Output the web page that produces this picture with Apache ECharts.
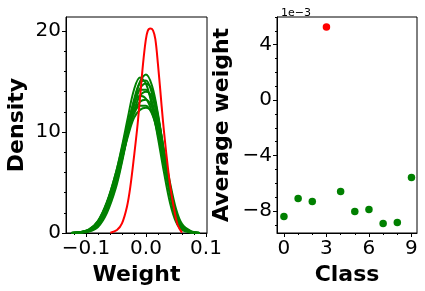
<!DOCTYPE html>
<html><head><meta charset="utf-8">
<script src="https://cdn.jsdelivr.net/npm/echarts@6/dist/echarts.min.js"></script>
<style>html,body{margin:0;padding:0;background:#fff}#c{width:425px;height:291px}</style>
</head><body><div id="c"></div>
<script>
// ---- data ----
const weightGrid = [-0.125,-0.11,-0.095,-0.08,-0.065,-0.05,-0.04,-0.03,-0.02,-0.01,0,0.01,0.02,0.03,0.04,0.05,0.06,0.075,0.09];
const green1 = [0,0.03,0.15,0.6,2.0,4.5,7.0,9.9,12.8,15.0,15.7,14.6,11.8,8.0,4.2,1.6,0.5,0.08,0];
const green2 = [0,0.08,0.3,1.1,3.0,6.0,8.6,11.5,14.2,15.4,14.8,12.6,9.4,6.0,3.0,1.1,0.3,0.05,0];
const green3 = [0,0.05,0.2,0.8,2.5,5.2,7.7,10.5,13.2,14.9,15.1,13.8,11.0,7.4,3.9,1.5,0.45,0.07,0];
const green4 = [0,0.04,0.18,0.7,2.2,4.8,7.2,10.0,12.6,14.3,14.8,14.1,11.6,8.0,4.4,1.8,0.55,0.08,0];
const green5 = [0,0.06,0.25,0.9,2.6,5.4,7.9,10.6,13.0,14.2,14.2,13.0,10.4,7.1,3.9,1.6,0.5,0.08,0];
const green6 = [0,0.05,0.2,0.8,2.3,4.9,7.3,9.9,12.1,13.6,14.0,13.5,11.4,8.2,4.7,2.0,0.65,0.1,0];
const green7 = [0,0.1,0.35,1.2,3.1,6.0,8.4,10.9,12.8,13.6,13.3,12.0,9.7,6.8,3.9,1.7,0.55,0.09,0];
const green8 = [0,0.07,0.28,1.0,2.8,5.5,7.8,10.1,12.0,13.0,13.2,12.5,10.6,7.8,4.6,2.0,0.7,0.12,0];
const green9 = [0,0.09,0.33,1.15,3.0,5.7,7.9,10.1,11.8,12.6,12.6,11.8,10.0,7.4,4.5,2.1,0.75,0.13,0];
const green10 = [0,0.06,0.25,0.9,2.6,5.2,7.4,9.6,11.4,12.2,12.4,12.0,10.5,8.0,5.0,2.4,0.9,0.18,0];
const greenCurves = [green1,green2,green3,green4,green5,green6,green7,green8,green9,green10];

const redWeights = [-0.0594,-0.0483,-0.040,-0.0317,-0.0261,-0.0194,-0.0139,-0.0094,-0.005,-0.0006,0.0028,0.0072,0.0117,0.0156,0.020,0.0239,0.0283,0.0339,0.0406,0.0472,0.0528,0.060];
const redDensities = [0.03,0.30,0.95,2.6,4.56,7.85,10.8,13.76,16.7,19.0,20.0,20.26,20.07,19.2,16.7,14.1,11.1,7.85,4.56,2.27,0.79,0.03];

const classes = [0,1,2,3,4,5,6,7,8,9];
const avgWeight = [-0.00840,-0.00710,-0.00732,0.00528,-0.00660,-0.00804,-0.00790,-0.00891,-0.00884,-0.00559];
const highlightClass = 3;

const leftXTicks = [-0.1,0,0.1];
const leftXMinor = [-0.12,-0.1,-0.08,-0.06,-0.04,-0.02,0,0.02,0.04,0.06,0.08,0.1];
const leftYTicks = [0,10,20];
const leftYMinor = [0,2,4,6,8,10,12,14,16,18,20];
const rightXTicks = [0,3,6,9];
const rightXMinor = [0,1,2,3,4,5,6,7,8,9];
const rightYTicks = [-0.008,-0.004,0,0.004];
const rightYMinor = [-0.009,-0.008,-0.007,-0.006,-0.005,-0.004,-0.003,-0.002,-0.001,0,0.001,0.002,0.003,0.004,0.005,0.006];

// ---- chart ----
const FONT = 'DejaVu Sans';
const minus = s => s.replace('-', '\u2212');
const lx = {min:-0.1333, max:0.1017};
const ly = {min:0, max:21.4};
const rx = {min:-0.49, max:9.39};
const ry = {min:-0.00959, max:0.0060};

function mainAxis(grid, ext, ticks, fmt, name, gap, isY) {
  return {
    type:'value', gridIndex:grid, min:ext.min, max:ext.max,
    position: isY ? 'left' : 'bottom',
    name:name, nameLocation:'middle', nameGap:gap,
    nameRotate: isY ? 90 : 0,
    nameTextStyle:{fontFamily:FONT, fontWeight:'bold', fontSize:22, color:'#000'},
    axisLine:{show:true, onZero:false, lineStyle:{color:'#000', width:1}},
    axisTick:{show:true, length:4, customValues:ticks, lineStyle:{color:'#000'}},
    axisLabel:{show:true, customValues:ticks, formatter:fmt, fontFamily:FONT, fontSize:20, color:'#000', margin:isY?5:6},
    splitLine:{show:false}
  };
}
function minorAxis(grid, ext, ticks, isY) {
  return {
    type:'value', gridIndex:grid, min:ext.min, max:ext.max,
    position: isY ? 'left' : 'bottom',
    axisLine:{show:false, onZero:false},
    axisTick:{show:true, length:2, customValues:ticks, lineStyle:{color:'#000'}},
    axisLabel:{show:false}, splitLine:{show:false}
  };
}

const series = [];
greenCurves.forEach(c => {
  series.push({type:'line', xAxisIndex:0, yAxisIndex:0, smooth:0.35, showSymbol:false, silent:true,
    data: weightGrid.map((w,i)=>[w,c[i]]), lineStyle:{color:'#008000', width:2}, z:2});
});
series.push({type:'line', xAxisIndex:0, yAxisIndex:0, smooth:0.35, showSymbol:false, silent:true,
  data: redWeights.map((w,i)=>[w,redDensities[i]]), lineStyle:{color:'#ff0000', width:2}, z:3});
series.push({type:'scatter', xAxisIndex:1, yAxisIndex:1, symbolSize:7.5, silent:true,
  data: classes.map((c,i)=>({value:[c,avgWeight[i]], itemStyle:{opacity:1, color: c===highlightClass?'#ff0000':'#008000'}}))});

const chart = echarts.init(document.getElementById('c'), null, {renderer:'canvas'});
chart.setOption({
  animation:false, backgroundColor:'#fff',
  title:{text:'1e\u22123', left:276, top:3, textStyle:{fontFamily:FONT, fontSize:11, fontWeight:'normal', color:'#000'}},
  grid:[
    {left:66, top:17, width:141, height:216, show:true, borderColor:'#000', borderWidth:1, backgroundColor:'transparent'},
    {left:277, top:17, width:140, height:216, show:true, borderColor:'#000', borderWidth:1, backgroundColor:'transparent'}
  ],
  xAxis:[
    mainAxis(0, lx, leftXTicks, v=>minus(v.toFixed(1)), 'Weight', 29, false),
    mainAxis(1, rx, rightXTicks, v=>String(Math.round(v)), 'Class', 29, false),
    minorAxis(0, lx, leftXMinor, false),
    minorAxis(1, rx, rightXMinor, false)
  ],
  yAxis:[
    mainAxis(0, ly, leftYTicks, v=>String(Math.round(v)), 'Density', 38, true),
    mainAxis(1, ry, rightYTicks, v=>minus(String(Math.round(v*1000))), 'Average weight', 44, true),
    minorAxis(0, ly, leftYMinor, true),
    minorAxis(1, ry, rightYMinor, true)
  ],
  series: series
});
</script></body></html>
